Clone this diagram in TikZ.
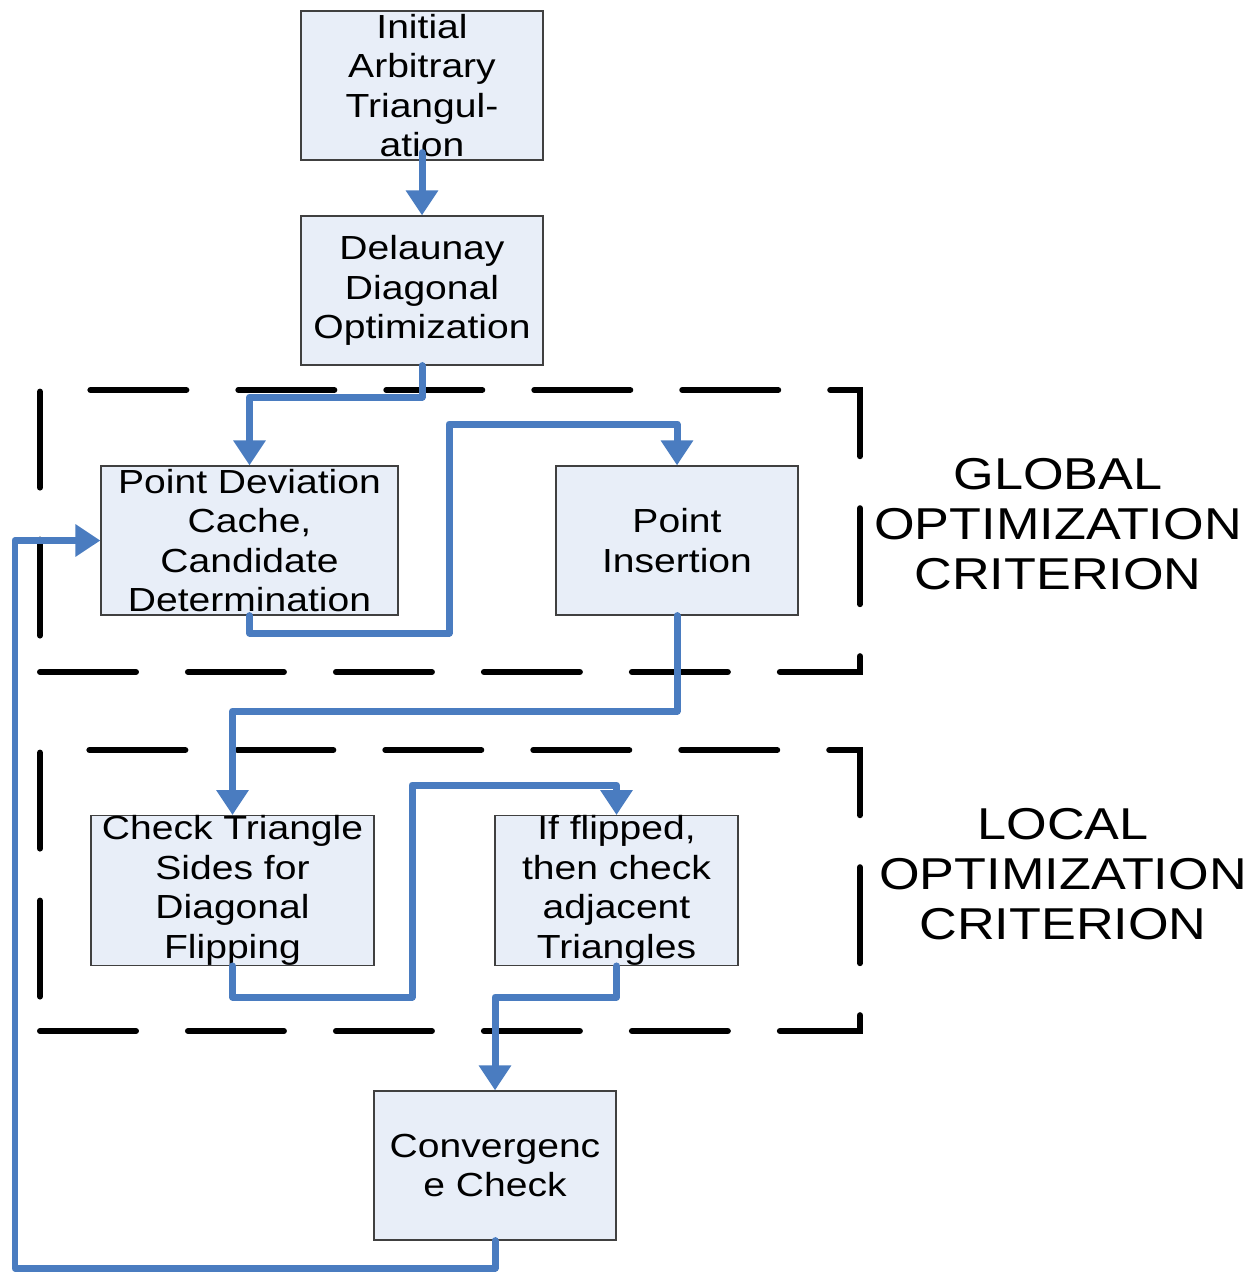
\documentclass[tikz,border=0pt]{standalone}
\usepackage{fontspec}
\setmainfont{Liberation Sans}[FakeStretch=1.17]
\usetikzlibrary{arrows.meta}
\definecolor{boxfill}{RGB}{232,238,248}
\definecolor{boxline}{RGB}{64,64,64}
\definecolor{connblue}{RGB}{74,124,192}
\begin{document}
\begin{tikzpicture}[x=0.02cm,y=-0.02cm,
  procbox/.style={draw=boxline,line width=0.7pt,fill=boxfill,inner sep=0pt,
    minimum height=2.98cm,align=center,font=\fontsize{19}{22.5}\selectfont},
  conn/.style={draw=connblue,line width=0.14cm,line join=round,line cap=round,
    -{Triangle[width=0.62cm,length=0.5cm]}},
  region/.style={draw=black,line width=0.12cm,line cap=round,dash pattern=on 1.92cm off 1.04cm},
  crit/.style={align=center,font=\fontsize{25.4}{28.5}\selectfont}]
\useasboundingbox (0,0) rectangle (1250,1272);
% dashed regions
\draw[region] (40,672) -- (860,672) -- (860,390) -- (40,390) -- cycle;
\draw[region] (40,1031) -- (860,1031) -- (860,750) -- (40,750) -- cycle;
% boxes
\node[procbox,minimum width=4.84cm] (init) at (422,85.5) {Initial\\Arbitrary\\Triangul-\\ation};
\node[procbox,minimum width=4.84cm] (del) at (422,290.5) {Delaunay\\Diagonal\\Optimization};
\node[procbox,minimum width=5.94cm] (pdc) at (249.5,540.5) {Point Deviation\\Cache,\\Candidate\\Determination};
\node[procbox,minimum width=4.84cm] (pi) at (677,540.5) {Point\\Insertion};
\node[procbox,minimum width=5.66cm] (ct) at (232.5,890.5) {Check Triangle\\Sides for\\Diagonal\\Flipping};
\node[procbox,minimum width=4.86cm] (iff) at (616.5,890.5) {If flipped,\\then check\\adjacent\\Triangles};
\node[procbox,minimum width=4.84cm] (cc) at (495,1165.5) {Convergenc\\e Check};
% labels
\node[crit] (glob) at (1058,524) {GLOBAL\\OPTIMIZATION\\CRITERION};
\node[crit] (loc) at (1063,874) {LOCAL\\OPTIMIZATION\\CRITERION};
% helper coordinates
\coordinate (c3a) at (449,633);
\coordinate (c3b) at (449,424);
\coordinate (c5a) at (412,997);
\coordinate (c5b) at (412,785);
\coordinate (c7a) at (15,1268);
\coordinate (c7b) at (15,540.5);
% connectors
\draw[conn] (init.south) ++(0,-8) -- (del.north);
\draw[conn] (del.south) -- (del.south |- 0,397) -| (pdc.north);
\draw[conn] (pdc.south) -- (pdc.south |- c3a) -- (c3a) -- (c3b) -| (pi.north);
\draw[conn] (pi.south) -- (pi.south |- 0,711) -| (ct.north);
\draw[conn] (ct.south) -- (ct.south |- c5a) -- (c5a) -- (c5b) -| (iff.north);
\draw[conn] (iff.south) -- (iff.south |- 0,997) -| (cc.north);
\draw[conn] (cc.south) -- (cc.south |- c7a) -- (c7a) -- (c7b) -- (pdc.west);
\end{tikzpicture}
\end{document}
